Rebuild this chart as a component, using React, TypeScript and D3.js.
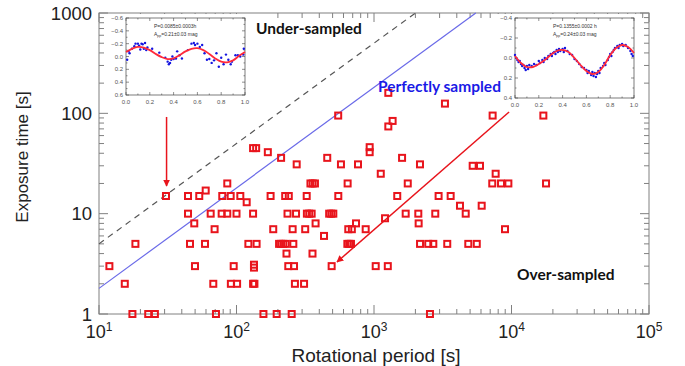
import * as d3 from "d3";

// exposure levels [s] and the rotational periods [s] observed at each of them
const exposureLevels = [1, 2, 2.9, 3, 3.1, 4, 5, 6, 7, 8, 9, 10, 12, 13, 15, 17, 20, 25, 30, 31, 36, 41, 45, 46, 74, 84, 95, 125, 160];
const periodsAtLevel = [
  [17.5, 22.8, 25.5, 70.9, 157, 196, 252, 2553],
  [15.4, 67.8, 91, 101, 132, 135, 266, 310],
  [134],
  [11.9, 49.9, 95.4, 238, 262, 492, 1029, 1260],
  [134],
  [231, 357],
  [18.4, 45.9, 59, 122, 140, 204, 211, 219, 228, 259, 640, 660, 680, 2162, 2480, 2700, 3410, 4850, 5590],
  [433],
  [69.3, 185, 256, 316, 650, 690, 870, 8970],
  [49.3, 376, 740, 2112],
  [1203],
  [44.4, 64.9, 78, 85.7, 100, 132, 235, 271, 325, 338, 352, 472, 489, 506, 1700, 2100, 2790, 4645],
  [4220, 6070],
  [118.6],
  [30.7, 44.4, 53.6, 78.8, 90.7, 106.6, 177, 226, 240, 324, 550, 1476, 2950, 3610],
  [59.7],
  [85.7, 345, 358, 372, 643, 1760, 7245, 8390, 9490, 17830],
  [1120, 7670],
  [5220, 5900],
  [274, 575, 765, 2160],
  [211, 457, 1600],
  [169, 930],
  [132, 139],
  [930],
  [1271],
  [1366],
  [549, 7290, 17050],
  [3281],
  [1271],
];

// reference lines (period, exposure)
const undersampledP = [10, 2000];
const undersampledT = [5, 1000];
const perfectP = [10, 5500];
const perfectT = [1.8, 1000];

// red arrows [from, to] in (period, exposure)
const arrowOver = [[9600, 103], [538, 3.3]];
const arrowUnder = [[31, 92], [31, 18.9]];

const xTickValues = [10, 100, 1000, 10000, 100000];
const xTickExp = ["1", "2", "3", "4", "5"];
const yTickValues = [1, 10, 100, 1000];

// inset light curves: phase and magnitude
const fitPhase = [0, 0.05, 0.1, 0.15, 0.2, 0.25, 0.3, 0.35, 0.4, 0.45, 0.5, 0.55, 0.6, 0.65, 0.7, 0.75, 0.8, 0.85, 0.9, 0.95, 1];
const leftFitMag = [-0.07, -0.12, -0.15, -0.14, -0.1, -0.04, 0.01, 0.04, 0.03, -0.02, -0.08, -0.12, -0.13, -0.1, -0.04, 0.03, 0.08, 0.09, 0.06, -0.01, -0.07];
const rightFitMag = [-0.02, 0.05, 0.09, 0.09, 0.06, 0.02, -0.03, -0.07, -0.08, -0.06, 0.0, 0.07, 0.13, 0.16, 0.14, 0.07, -0.03, -0.1, -0.13, -0.11, -0.05];

const leftDots = [
  [0.01, 0.05], [0.02, -0.08], [0.03, -0.05], [0.05, -0.12], [0.07, -0.16], [0.08, -0.2], [0.1, -0.2], [0.11, -0.17],
  [0.12, -0.11], [0.13, -0.2], [0.14, -0.19], [0.15, -0.12], [0.16, -0.21], [0.17, -0.1], [0.18, -0.14], [0.22, -0.12],
  [0.28, -0.06], [0.33, 0.02], [0.35, 0.08], [0.36, 0.12], [0.37, 0.1], [0.38, 0.05], [0.39, 0.0], [0.4, 0.04],
  [0.42, 0.03], [0.43, -0.08], [0.45, -0.02], [0.47, 0.03], [0.52, -0.1], [0.55, -0.2], [0.57, -0.21], [0.58, -0.18],
  [0.6, -0.2], [0.62, -0.15], [0.64, -0.18], [0.66, -0.05], [0.68, 0.05], [0.7, 0.04], [0.72, 0.1], [0.74, 0.06],
  [0.76, -0.05], [0.78, 0.16], [0.8, 0.02], [0.82, 0.12], [0.84, -0.03], [0.86, 0.05], [0.88, 0.12], [0.89, 0.08],
  [0.92, -0.02], [0.94, -0.02], [0.96, 0.0], [0.985, -0.03], [0.99, -0.12],
];
const rightDots = [
  [0.0, -0.03], [0.01, 0.0], [0.02, 0.02], [0.03, 0.04], [0.04, 0.03], [0.05, 0.06], [0.06, 0.08], [0.07, 0.07],
  [0.08, 0.1], [0.09, 0.12], [0.1, 0.08], [0.11, 0.11], [0.12, 0.07], [0.14, 0.08], [0.16, 0.06], [0.18, 0.07],
  [0.2, 0.03], [0.21, 0.05], [0.23, 0.02], [0.24, 0.04], [0.25, 0.0], [0.27, 0.01], [0.28, -0.02], [0.3, -0.04],
  [0.31, -0.02], [0.32, -0.05], [0.33, -0.06], [0.34, -0.04], [0.35, -0.08], [0.36, -0.06], [0.37, -0.09], [0.38, -0.07],
  [0.4, -0.09], [0.41, -0.06], [0.42, -0.1], [0.44, -0.07], [0.46, -0.04], [0.48, -0.03], [0.5, 0.01], [0.52, 0.03],
  [0.54, 0.06], [0.56, 0.09], [0.58, 0.1], [0.6, 0.12], [0.61, 0.15], [0.62, 0.13], [0.64, 0.17], [0.65, 0.14],
  [0.66, 0.18], [0.67, 0.15], [0.68, 0.19], [0.69, 0.16], [0.7, 0.13], [0.71, 0.15], [0.72, 0.1], [0.74, 0.08],
  [0.75, 0.05], [0.76, 0.07], [0.78, 0.02], [0.79, -0.01], [0.8, -0.04], [0.81, -0.02], [0.82, -0.06], [0.83, -0.08],
  [0.84, -0.1], [0.86, -0.12], [0.87, -0.1], [0.88, -0.13], [0.9, -0.14], [0.91, -0.12], [0.93, -0.13], [0.95, -0.1],
  [0.97, -0.07], [0.98, -0.04], [0.99, -0.02],
];
const leftMagTicks = [-0.6, -0.4, -0.2, 0, 0.2, 0.4, 0.6];
const rightMagTicks = [-0.4, -0.2, 0, 0.2, 0.4];
const phaseTicks = [0, 0.2, 0.4, 0.6, 0.8, 1];

const plot = { left: 99, right: 649, top: 13, bottom: 314 };
const sansFont = "'Liberation Sans', Arial, sans-serif";
const boldFont = "Lato, 'Open Sans', sans-serif";
const red = "#e8141c";

const fmt = (v: number) => (v < 0 ? "\u2212" : "") + Math.abs(v).toFixed(1);

type InsetProps = {
  box: { x: number; y: number; w: number; h: number };
  magDomain: [number, number];
  magTicks: number[];
  fit: number[];
  dots: number[][];
  line1: string;
  line2: string;
  textX: number;
};

const Inset = ({ box, magDomain, magTicks, fit, dots, line1, line2, textX }: InsetProps) => {
  const px = d3.scaleLinear().domain([0, 1]).range([box.x, box.x + box.w]);
  const py = d3.scaleLinear().domain(magDomain).range([box.y, box.y + box.h]);
  const path = d3
    .line<number>()
    .x((_, i) => px(fitPhase[i]))
    .y((d) => py(d))
    .curve(d3.curveCatmullRom)(fit);
  const minorPhase = d3.range(0, 1.001, 0.1);
  const minorMag = d3.range(magDomain[0], magDomain[1] + 0.001, 0.1);
  return (
    <g fontFamily={sansFont} fill="#555">
      <rect x={box.x - 18} y={box.y - 4} width={box.w + 24} height={box.h + 16} fill="white" />
      {minorPhase.map((p, i) => (
        <g key={`mp${i}`} stroke="#444" strokeWidth={0.6}>
          <line x1={px(p)} x2={px(p)} y1={box.y + box.h} y2={box.y + box.h - (i % 2 ? 1.5 : 3)} />
          <line x1={px(p)} x2={px(p)} y1={box.y} y2={box.y + (i % 2 ? 1.5 : 3)} />
        </g>
      ))}
      {minorMag.map((m, i) => (
        <g key={`mm${i}`} stroke="#444" strokeWidth={0.6}>
          <line x1={box.x} x2={box.x + (i % 2 ? 1.5 : 3)} y1={py(m)} y2={py(m)} />
          <line x1={box.x + box.w} x2={box.x + box.w - (i % 2 ? 1.5 : 3)} y1={py(m)} y2={py(m)} />
        </g>
      ))}
      <rect x={box.x} y={box.y} width={box.w} height={box.h} fill="none" stroke="#444" strokeWidth={0.7} />
      {dots.map(([p, m], i) => (
        <circle key={`d${i}`} cx={px(p)} cy={py(m)} r={1.2} fill="#1515e0" />
      ))}
      <path d={path ?? ""} fill="none" stroke="#ff2a3a" strokeWidth={1.8} />
      {magTicks.map((m) => (
        <text key={`ml${m}`} x={box.x - 3} y={py(m) + 2} fontSize={6} textAnchor="end">
          {fmt(m)}
        </text>
      ))}
      {phaseTicks.map((p) => (
        <text key={`pl${p}`} x={px(p)} y={box.y + box.h + 9} fontSize={6} textAnchor="middle">
          {p.toFixed(1)}
        </text>
      ))}
      <text x={textX} y={box.y + 10} fontSize={5} fill="#333">
        {line1}
      </text>
      <text x={textX} y={box.y + 17.5} fontSize={5} fill="#333">
        A<tspan fontSize={3.5} dy={1.2}>pp</tspan>
        <tspan dy={-1.2}>{line2}</tspan>
      </text>
    </g>
  );
};

export default function App() {
  const x = d3.scaleLog().domain([10, 1e5]).range([plot.left, plot.right]);
  const y = d3.scaleLog().domain([1, 1000]).range([plot.bottom, plot.top]);
  const xMinor = x.ticks();
  const yMinor = y.ticks();
  const isMajor = (v: number) => Math.abs(Math.log10(v) - Math.round(Math.log10(v))) < 1e-6;

  const points = exposureLevels.flatMap((t, i) => periodsAtLevel[i].map((p) => ({ p, t })));
  const frame = "#808080";

  return (
    <svg
      width={685}
      height={366}
      style={{ position: "absolute", left: 0, top: 0, background: "white" }}
    >
      <defs>
        <marker id="head" viewBox="0 0 10 10" refX={9} refY={5} markerWidth={7} markerHeight={7} markerUnits="userSpaceOnUse" orient="auto">
          <path d="M0,0 L10,5 L0,10 z" fill={red} />
        </marker>
      </defs>
      <rect width={685} height={366} fill="white" />

      {/* frame ticks */}
      <g stroke={frame} strokeWidth={1}>
        {xMinor.map((v) => {
          const len = isMajor(v) ? 9 : 5;
          return (
            <g key={`xt${v}`}>
              <line x1={x(v)} x2={x(v)} y1={plot.bottom} y2={plot.bottom - len} />
              <line x1={x(v)} x2={x(v)} y1={plot.top} y2={plot.top + len} />
            </g>
          );
        })}
        {yMinor.map((v) => {
          const len = isMajor(v) ? 9 : 5;
          return (
            <g key={`yt${v}`}>
              <line x1={plot.left} x2={plot.left + len} y1={y(v)} y2={y(v)} />
              <line x1={plot.right} x2={plot.right - len} y1={y(v)} y2={y(v)} />
            </g>
          );
        })}
        <rect x={plot.left} y={plot.top} width={plot.right - plot.left} height={plot.bottom - plot.top} fill="none" />
      </g>

      {/* reference lines */}
      <line
        x1={x(undersampledP[0])}
        y1={y(undersampledT[0])}
        x2={x(undersampledP[1])}
        y2={y(undersampledT[1])}
        stroke="#555"
        strokeWidth={1.2}
        strokeDasharray="6,5"
      />
      <line
        x1={x(perfectP[0])}
        y1={y(perfectT[0])}
        x2={x(perfectP[1])}
        y2={y(perfectT[1])}
        stroke="#6a6ae8"
        strokeWidth={1.2}
      />

      {/* observations */}
      <g fill="none" stroke={red} strokeWidth={2}>
        {points.map((d, i) => (
          <rect key={`pt${i}`} x={x(d.p) - 3} y={y(d.t) - 3} width={6} height={6} />
        ))}
      </g>

      {/* arrows */}
      {[arrowOver, arrowUnder].map((a, i) => (
        <line
          key={`ar${i}`}
          x1={x(a[0][0])}
          y1={y(a[0][1])}
          x2={x(a[1][0])}
          y2={y(a[1][1])}
          stroke={red}
          strokeWidth={1.5}
          markerEnd="url(#head)"
        />
      ))}

      {/* insets */}
      <Inset
        box={{ x: 126, y: 18, w: 119, h: 77 }}
        magDomain={[-0.6, 0.6]}
        magTicks={leftMagTicks}
        fit={leftFitMag}
        dots={leftDots}
        line1="P=0.0085±0.0003h"
        line2="=0.21±0.03 mag"
        textX={154}
      />
      <Inset
        box={{ x: 515, y: 18, w: 119, h: 80 }}
        magDomain={[-0.4, 0.4]}
        magTicks={rightMagTicks}
        fit={rightFitMag}
        dots={rightDots}
        line1="P=0.1355±0.0002 h"
        line2="=0.24±0.03 mag"
        textX={553}
      />

      {/* tick labels */}
      <g fontFamily={sansFont} fill="#222">
        {yTickValues.map((v) => (
          <text key={`yl${v}`} x={92} y={y(v) + 6.5} fontSize={18.5} textAnchor="end">
            {v}
          </text>
        ))}
        {xTickValues.map((v, i) => (
          <text key={`xl${v}`} x={x(v)} y={338} fontSize={18} textAnchor="middle">
            10<tspan fontSize={12} dy={-7}>{xTickExp[i]}</tspan>
          </text>
        ))}
        <text x={376} y={362} fontSize={19} textAnchor="middle">
          Rotational period [s]
        </text>
        <text transform="translate(28,157) rotate(-90)" fontSize={17} textAnchor="middle">
          Exposure time [s]
        </text>
      </g>

      {/* region labels */}
      <g fontFamily={boldFont} fontWeight="bold" fontSize={15.5}>
        <text x={256} y={34} fill="#111">Under-sampled</text>
        <text x={378} y={92} fill="#1a1ae6">Perfectly sampled</text>
        <text x={517} y={280} fill="#111">Over-sampled</text>
      </g>
    </svg>
  );
}
